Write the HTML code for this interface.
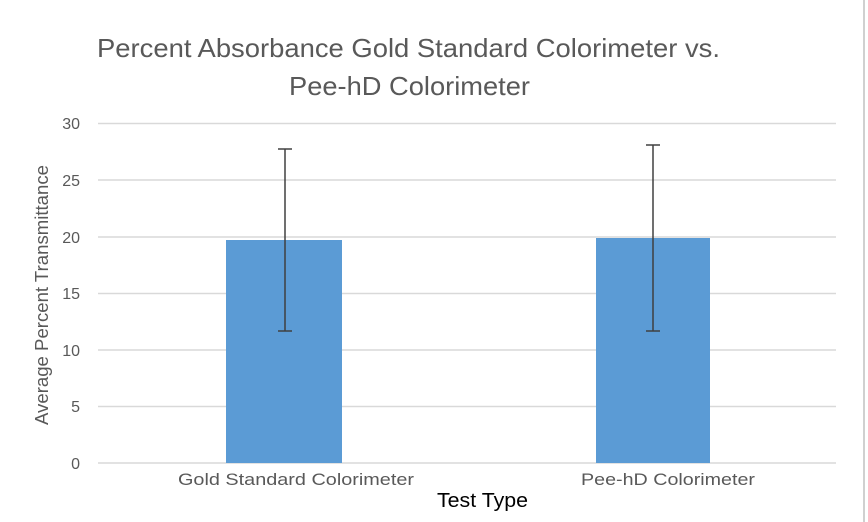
<!DOCTYPE html>
<html><head><style>body{margin:0;background:#fff}svg{display:block}text{font-family:"Liberation Sans",sans-serif}</style></head><body>
<svg width="868" height="522" xmlns="http://www.w3.org/2000/svg">
<line x1="864" y1="0" x2="864" y2="522" stroke="#d0d0d0" stroke-width="2"/>
<g fill="#595959" font-size="26" text-anchor="middle">
<text x="408.5" y="57" textLength="623" lengthAdjust="spacingAndGlyphs">Percent Absorbance Gold Standard Colorimeter vs.</text>
<text x="409.5" y="95" textLength="241" lengthAdjust="spacingAndGlyphs">Pee-hD Colorimeter</text>
</g>
<g stroke="#d9d9d9" stroke-width="1.5">
<line x1="98" x2="836" y1="123.5" y2="123.5"/><line x1="98" x2="836" y1="180" y2="180"/>
<line x1="98" x2="836" y1="237" y2="237"/><line x1="98" x2="836" y1="293.5" y2="293.5"/>
<line x1="98" x2="836" y1="350" y2="350"/><line x1="98" x2="836" y1="406.5" y2="406.5"/>
<line x1="98" x2="836" y1="463" y2="463"/>
</g>
<g fill="#595959" font-size="16" text-anchor="end">
<text x="80" y="129">30</text><text x="80" y="186">25</text><text x="80" y="243">20</text>
<text x="80" y="299">15</text><text x="80" y="356">10</text><text x="80" y="412">5</text><text x="80" y="469">0</text>
</g>
<rect x="226" y="240" width="116" height="223" fill="#5b9bd5"/>
<rect x="596" y="238" width="114" height="225" fill="#5b9bd5"/>
<g stroke="#404040" stroke-width="1.5">
<line x1="285" x2="285" y1="149" y2="331"/><line x1="278" x2="292" y1="149" y2="149"/><line x1="278" x2="292" y1="331" y2="331"/>
<line x1="653" x2="653" y1="145" y2="331"/><line x1="646" x2="660" y1="145" y2="145"/><line x1="646" x2="660" y1="331" y2="331"/>
</g>
<g fill="#595959" font-size="17" text-anchor="middle">
<text x="296" y="485" textLength="236" lengthAdjust="spacingAndGlyphs">Gold Standard Colorimeter</text>
<text x="668" y="485" textLength="174" lengthAdjust="spacingAndGlyphs">Pee-hD Colorimeter</text>
</g>
<text x="482.5" y="507" font-size="20" fill="#000" text-anchor="middle" textLength="91" lengthAdjust="spacingAndGlyphs">Test Type</text>
<text transform="translate(48,295) rotate(-90)" font-size="18" fill="#595959" text-anchor="middle" textLength="260" lengthAdjust="spacingAndGlyphs">Average Percent Transmittance</text>
</svg>
</body></html>
